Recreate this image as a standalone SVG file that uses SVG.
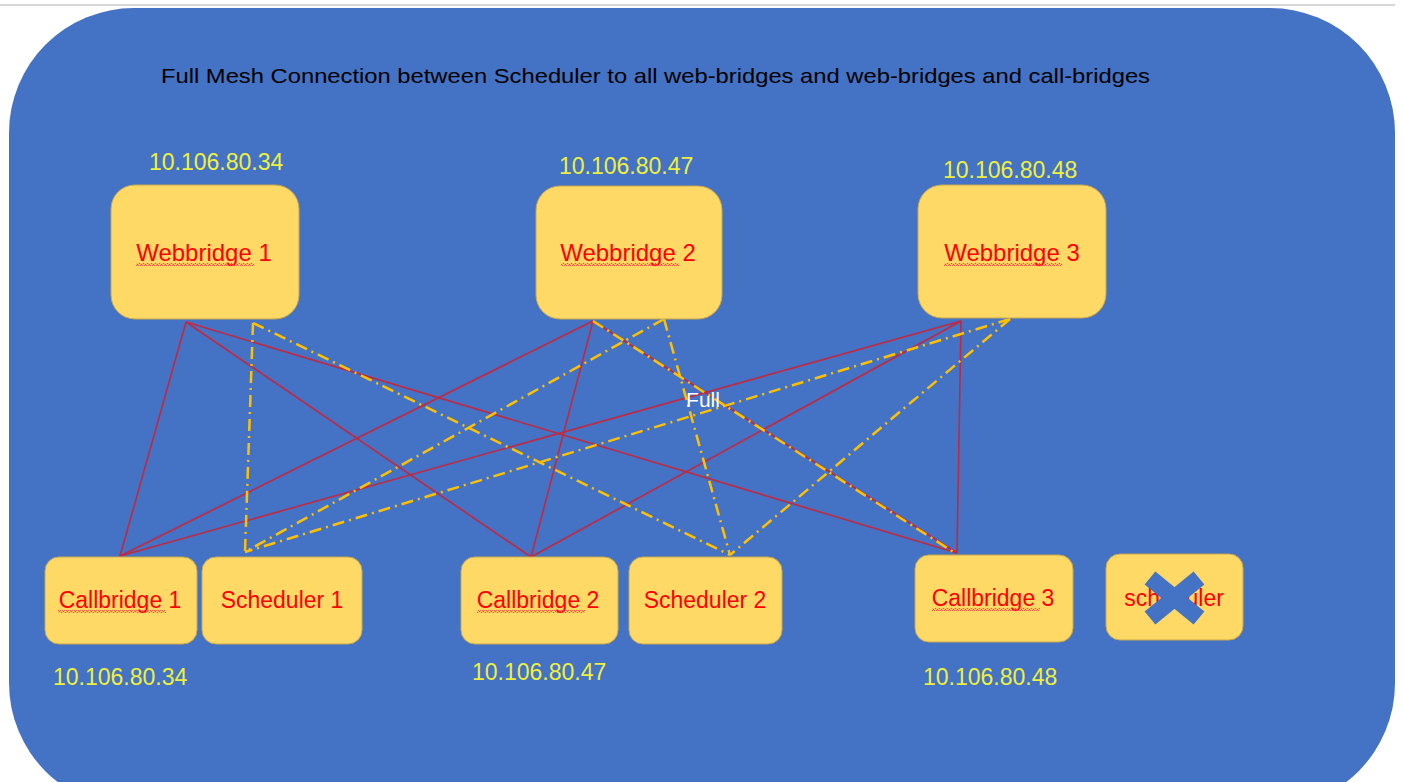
<svg xmlns="http://www.w3.org/2000/svg" width="1404" height="782" viewBox="0 0 1404 782">
<style>
.node{fill:#FFD966;stroke:#C9A84A;stroke-width:1}
.lbl{font-family:"Liberation Sans",Arial,sans-serif;font-size:23px;fill:#FF0000;text-anchor:middle;dominant-baseline:central}
.big{font-size:24px}
.ip{font-family:"Liberation Sans",Arial,sans-serif;font-size:23px;fill:#EEF03A;text-anchor:start;dominant-baseline:central}
.red{stroke:#C3283F;stroke-width:1.6;fill:none}
.yel{stroke:#FFC000;stroke-width:2.5;fill:none;stroke-dasharray:12 5 2 5}
</style>
<defs>
<pattern id="squig" width="4" height="3" patternUnits="userSpaceOnUse">
<path d="M0,2.5 L1,0.5 L2,0.5 L3,2.5 L4,2.5" stroke="#FF3030" stroke-width="0.8" fill="none"/>
</pattern>
</defs>
<rect x="0" y="0" width="1404" height="782" fill="#FFFFFF"/>
<line x1="0" y1="5" x2="1395" y2="5" stroke="#D6D6D6" stroke-width="2"/>
<rect id="frame" x="9" y="8" width="1386" height="800" rx="125" ry="125" fill="#4472C4"/>
<text id="title" x="161" y="75" font-family="'Liberation Sans',Arial,sans-serif" font-size="21" fill="#000000" dominant-baseline="central" textLength="989" lengthAdjust="spacingAndGlyphs">Full Mesh Connection between Scheduler to all web-bridges and web-bridges and call-bridges</text>

<g id="connectors">
<line class="red" x1="186" y1="322" x2="120" y2="556"/>
<line class="red" x1="186" y1="322" x2="531" y2="557"/>
<line class="red" x1="186" y1="322" x2="957" y2="553"/>
<line class="red" x1="593" y1="321" x2="120" y2="556"/>
<line class="red" x1="593" y1="321" x2="531" y2="557"/>
<line class="red" x1="593" y1="321" x2="957" y2="553"/>
<line class="red" x1="961" y1="321" x2="120" y2="556"/>
<line class="red" x1="961" y1="321" x2="531" y2="557"/>
<line class="red" x1="961" y1="321" x2="957" y2="553"/>
<line class="yel" x1="253" y1="323" x2="245" y2="552"/>
<line class="yel" x1="253" y1="323" x2="730" y2="555"/>
<line class="yel" x1="664" y1="319" x2="245" y2="552"/>
<line class="yel" x1="664" y1="319" x2="730" y2="555"/>
<line class="yel" x1="593" y1="321" x2="955" y2="553"/>
<line class="yel" x1="1010" y1="319" x2="245" y2="552"/>
<line class="yel" x1="1010" y1="319" x2="730" y2="555"/>
<text x="703" y="399" font-family="'Liberation Sans',Arial,sans-serif" font-size="21" fill="#FFFFFF" text-anchor="middle" dominant-baseline="central">Full</text>
</g>

<g id="ip-labels">
<text class="ip" x="149" y="162">10.106.80.34</text>
<text class="ip" x="559" y="166">10.106.80.47</text>
<text class="ip" x="943" y="170">10.106.80.48</text>
<text class="ip" x="53" y="677">10.106.80.34</text>
<text class="ip" x="472" y="672">10.106.80.47</text>
<text class="ip" x="923" y="677">10.106.80.48</text>
</g>

<g id="webbridge1">
<rect class="node" x="111" y="185" width="188" height="134" rx="24"/>
<text class="lbl big" x="204" y="252">Webbridge 1</text>
<rect x="136" y="263" width="118" height="3" fill="url(#squig)"/>
</g>
<g id="webbridge2">
<rect class="node" x="536" y="186" width="186" height="133" rx="24"/>
<text class="lbl big" x="628" y="252">Webbridge 2</text>
<rect x="561" y="263" width="118" height="3" fill="url(#squig)"/>
</g>
<g id="webbridge3">
<rect class="node" x="918" y="185" width="188" height="133" rx="24"/>
<text class="lbl big" x="1012" y="252">Webbridge 3</text>
<rect x="944" y="263" width="118" height="3" fill="url(#squig)"/>
</g>

<g id="callbridge1">
<rect class="node" x="45" y="557" width="152" height="87" rx="14"/>
<text class="lbl" x="120" y="600">Callbridge 1</text>
<rect x="58" y="610" width="108" height="3" fill="url(#squig)"/>
</g>
<g id="scheduler1">
<rect class="node" x="202" y="557" width="160" height="87" rx="14"/>
<text class="lbl" x="282" y="600">Scheduler 1</text>
</g>
<g id="callbridge2">
<rect class="node" x="461" y="557" width="157" height="87" rx="14"/>
<text class="lbl" x="538" y="600">Callbridge 2</text>
<rect x="477" y="610" width="108" height="3" fill="url(#squig)"/>
</g>
<g id="scheduler2">
<rect class="node" x="629" y="557" width="153" height="87" rx="14"/>
<text class="lbl" x="705" y="600">Scheduler 2</text>
</g>
<g id="callbridge3">
<rect class="node" x="915" y="555" width="158" height="87" rx="14"/>
<text class="lbl" x="993" y="598">Callbridge 3</text>
<rect x="932" y="608" width="108" height="3" fill="url(#squig)"/>
</g>
<g id="scheduler3">
<rect class="node" x="1106" y="554" width="137" height="86" rx="14"/>
<text class="lbl" x="1174" y="598">scheduler</text>
<line x1="1150" y1="578" x2="1199" y2="618" stroke="#4472C4" stroke-width="17"/>
<line x1="1199" y1="578" x2="1150" y2="618" stroke="#4472C4" stroke-width="17"/>
</g>
</svg>
